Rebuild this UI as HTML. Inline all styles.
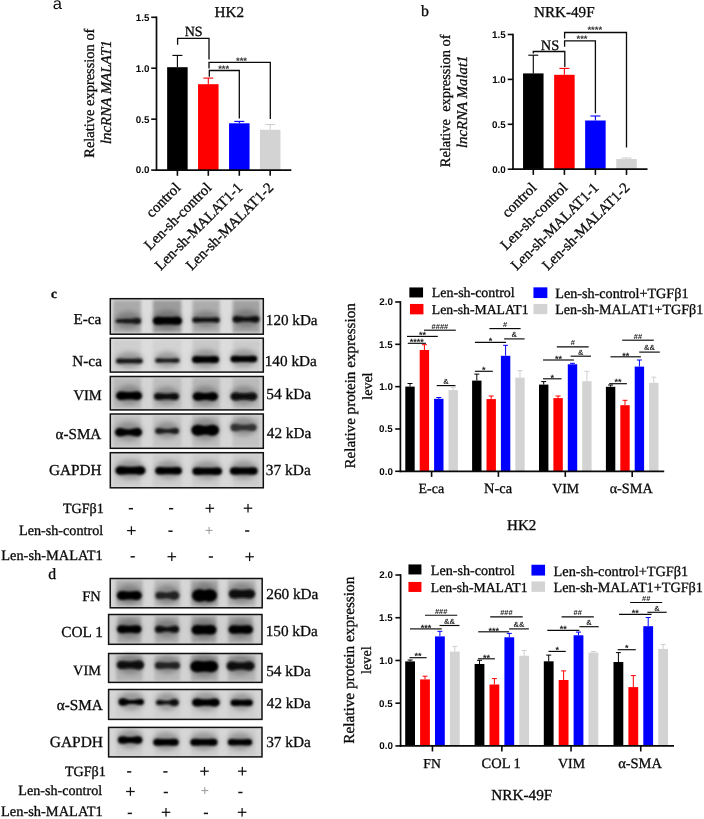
<!DOCTYPE html>
<html><head><meta charset="utf-8"><style>
html,body{margin:0;padding:0;background:#fff;}
body{width:704px;height:819px;overflow:hidden;font-family:"Liberation Serif",serif;}
svg{display:block;will-change:transform;} text{text-rendering:geometricPrecision;}
</style></head><body>
<svg width="704" height="819" viewBox="0 0 704 819">
<defs>
<filter id="bl1" x="-20%" y="-100%" width="140%" height="300%"><feGaussianBlur stdDeviation="1.15"/></filter>
<filter id="bl2" x="-20%" y="-20%" width="140%" height="140%"><feGaussianBlur stdDeviation="1.5"/></filter>
<filter id="bl3" x="-30%" y="-100%" width="160%" height="300%"><feGaussianBlur stdDeviation="2.5"/></filter>
</defs>
<rect width="704" height="819" fill="#fff"/>
<text x="52.79" y="8.99" font-family="Liberation Sans, sans-serif" font-size="16.50" fill="#0a0a0a">a</text>
<rect x="167.15" y="67.20" width="20.50" height="102.90" fill="#000000"/>
<line x1="177.40" y1="67.20" x2="177.40" y2="55.40" stroke="#000000" stroke-width="1.1"/>
<line x1="172.40" y1="55.40" x2="182.40" y2="55.40" stroke="#000000" stroke-width="1.1"/>
<rect x="198.05" y="84.20" width="20.50" height="85.90" fill="#ff0000"/>
<line x1="208.30" y1="84.20" x2="208.30" y2="78.10" stroke="#ff0000" stroke-width="1.1"/>
<line x1="203.30" y1="78.10" x2="213.30" y2="78.10" stroke="#ff0000" stroke-width="1.1"/>
<rect x="229.05" y="123.30" width="20.50" height="46.80" fill="#0000ff"/>
<line x1="239.30" y1="123.30" x2="239.30" y2="121.40" stroke="#0000ff" stroke-width="1.1"/>
<line x1="234.30" y1="121.40" x2="244.30" y2="121.40" stroke="#0000ff" stroke-width="1.1"/>
<rect x="259.95" y="129.80" width="20.50" height="40.30" fill="#d3d3d3"/>
<line x1="270.20" y1="129.80" x2="270.20" y2="124.50" stroke="#cfcfcf" stroke-width="1.1"/>
<line x1="265.20" y1="124.50" x2="275.20" y2="124.50" stroke="#cfcfcf" stroke-width="1.1"/>
<line x1="156.50" y1="16.45" x2="156.50" y2="170.95" stroke="#0a0a0a" stroke-width="1.7"/>
<line x1="155.65" y1="170.10" x2="291.30" y2="170.10" stroke="#0a0a0a" stroke-width="1.7"/>
<line x1="151.20" y1="170.10" x2="156.50" y2="170.10" stroke="#0a0a0a" stroke-width="1.6"/>
<text x="135.87" y="173.48" font-family="Liberation Sans, sans-serif" font-size="9.80" font-weight="bold" fill="#0a0a0a">0.0</text>
<line x1="151.20" y1="119.17" x2="156.50" y2="119.17" stroke="#0a0a0a" stroke-width="1.6"/>
<text x="135.72" y="122.55" font-family="Liberation Sans, sans-serif" font-size="9.80" font-weight="bold" fill="#0a0a0a">0.5</text>
<line x1="151.20" y1="68.23" x2="156.50" y2="68.23" stroke="#0a0a0a" stroke-width="1.6"/>
<text x="135.87" y="71.61" font-family="Liberation Sans, sans-serif" font-size="9.80" font-weight="bold" fill="#0a0a0a">1.0</text>
<line x1="151.20" y1="17.30" x2="156.50" y2="17.30" stroke="#0a0a0a" stroke-width="1.6"/>
<text x="135.72" y="20.63" font-family="Liberation Sans, sans-serif" font-size="9.80" font-weight="bold" fill="#0a0a0a">1.5</text>
<line x1="177.40" y1="170.10" x2="177.40" y2="175.80" stroke="#0a0a0a" stroke-width="1.6"/>
<line x1="208.30" y1="170.10" x2="208.30" y2="175.80" stroke="#0a0a0a" stroke-width="1.6"/>
<line x1="239.30" y1="170.10" x2="239.30" y2="175.80" stroke="#0a0a0a" stroke-width="1.6"/>
<line x1="270.20" y1="170.10" x2="270.20" y2="175.80" stroke="#0a0a0a" stroke-width="1.6"/>
<text x="214.60" y="17.08" font-family="Liberation Serif, serif" font-size="15.16" stroke="#0a0a0a" stroke-width="0.3" fill="#0a0a0a">HK2</text>
<path d="M177.6,44.7 V38.3 H209 V59.6" fill="none" stroke="#0a0a0a" stroke-width="1.3"/>
<text x="184.73" y="35.85" font-family="Liberation Serif, serif" font-size="14.01" stroke="#0a0a0a" stroke-width="0.3" fill="#0a0a0a">NS</text>
<path d="M209,68.5 V62.4 H270.3 V119" fill="none" stroke="#0a0a0a" stroke-width="1.3"/>
<text x="235.94" y="64.00" font-family="Liberation Sans, sans-serif" font-size="9.50" font-weight="bold" fill="#333">***</text>
<path d="M209.3,76.8 V70.5 H239.3 V118.5" fill="none" stroke="#0a0a0a" stroke-width="1.3"/>
<text x="218.14" y="71.70" font-family="Liberation Sans, sans-serif" font-size="9.50" font-weight="bold" fill="#333">***</text>
<text x="94.00" y="157.68" font-family="Liberation Serif, serif" font-size="14.45" stroke="#0a0a0a" stroke-width="0.3" fill="#0a0a0a" transform="rotate(-90 94.00 157.68)">Relative expression of</text>
<text x="111.10" y="144.07" font-family="Liberation Serif, serif" font-size="14.90" font-style="italic" stroke="#0a0a0a" stroke-width="0.3" fill="#0a0a0a" transform="rotate(-90 111.10 144.07)">lncRNA MALAT1</text>
<text x="181.40" y="188.50" font-family="Liberation Serif, serif" font-size="14.80" stroke="#0a0a0a" stroke-width="0.3" fill="#0a0a0a" transform="rotate(-45 181.40 188.50)" text-anchor="end">control</text>
<text x="212.30" y="188.50" font-family="Liberation Serif, serif" font-size="14.80" stroke="#0a0a0a" stroke-width="0.3" fill="#0a0a0a" transform="rotate(-45 212.30 188.50)" text-anchor="end">Len-sh-control</text>
<text x="243.30" y="188.50" font-family="Liberation Serif, serif" font-size="14.80" stroke="#0a0a0a" stroke-width="0.3" fill="#0a0a0a" transform="rotate(-45 243.30 188.50)" text-anchor="end">Len-sh-MALAT1-1</text>
<text x="274.20" y="188.50" font-family="Liberation Serif, serif" font-size="14.80" stroke="#0a0a0a" stroke-width="0.3" fill="#0a0a0a" transform="rotate(-45 274.20 188.50)" text-anchor="end">Len-sh-MALAT1-2</text>
<text x="420.95" y="16.39" font-family="Liberation Serif, serif" font-size="15.80" stroke="#0a0a0a" stroke-width="0.3" fill="#0a0a0a">b</text>
<rect x="523.05" y="73.40" width="20.50" height="95.80" fill="#000000"/>
<line x1="533.30" y1="73.40" x2="533.30" y2="55.20" stroke="#000000" stroke-width="1.1"/>
<line x1="528.30" y1="55.20" x2="538.30" y2="55.20" stroke="#000000" stroke-width="1.1"/>
<rect x="554.15" y="74.80" width="20.50" height="94.40" fill="#ff0000"/>
<line x1="564.40" y1="74.80" x2="564.40" y2="68.40" stroke="#ff0000" stroke-width="1.1"/>
<line x1="559.40" y1="68.40" x2="569.40" y2="68.40" stroke="#ff0000" stroke-width="1.1"/>
<rect x="585.15" y="120.50" width="20.50" height="48.70" fill="#0000ff"/>
<line x1="595.40" y1="120.50" x2="595.40" y2="116.00" stroke="#0000ff" stroke-width="1.1"/>
<line x1="590.40" y1="116.00" x2="600.40" y2="116.00" stroke="#0000ff" stroke-width="1.1"/>
<rect x="616.25" y="159.00" width="20.50" height="10.20" fill="#d3d3d3"/>
<line x1="626.50" y1="159.00" x2="626.50" y2="158.00" stroke="#cfcfcf" stroke-width="1.1"/>
<line x1="621.50" y1="158.00" x2="631.50" y2="158.00" stroke="#cfcfcf" stroke-width="1.1"/>
<line x1="513.00" y1="33.65" x2="513.00" y2="170.05" stroke="#0a0a0a" stroke-width="1.7"/>
<line x1="512.15" y1="169.20" x2="647.50" y2="169.20" stroke="#0a0a0a" stroke-width="1.7"/>
<line x1="507.70" y1="169.20" x2="513.00" y2="169.20" stroke="#0a0a0a" stroke-width="1.6"/>
<text x="492.17" y="172.58" font-family="Liberation Sans, sans-serif" font-size="9.80" font-weight="bold" fill="#0a0a0a">0.0</text>
<line x1="507.70" y1="124.30" x2="513.00" y2="124.30" stroke="#0a0a0a" stroke-width="1.6"/>
<text x="492.02" y="127.68" font-family="Liberation Sans, sans-serif" font-size="9.80" font-weight="bold" fill="#0a0a0a">0.5</text>
<line x1="507.70" y1="79.40" x2="513.00" y2="79.40" stroke="#0a0a0a" stroke-width="1.6"/>
<text x="492.17" y="82.78" font-family="Liberation Sans, sans-serif" font-size="9.80" font-weight="bold" fill="#0a0a0a">1.0</text>
<line x1="507.70" y1="34.50" x2="513.00" y2="34.50" stroke="#0a0a0a" stroke-width="1.6"/>
<text x="492.02" y="37.83" font-family="Liberation Sans, sans-serif" font-size="9.80" font-weight="bold" fill="#0a0a0a">1.5</text>
<line x1="533.30" y1="169.20" x2="533.30" y2="174.90" stroke="#0a0a0a" stroke-width="1.6"/>
<line x1="564.40" y1="169.20" x2="564.40" y2="174.90" stroke="#0a0a0a" stroke-width="1.6"/>
<line x1="595.40" y1="169.20" x2="595.40" y2="174.90" stroke="#0a0a0a" stroke-width="1.6"/>
<line x1="626.50" y1="169.20" x2="626.50" y2="174.90" stroke="#0a0a0a" stroke-width="1.6"/>
<text x="534.10" y="16.81" font-family="Liberation Serif, serif" font-size="15.12" stroke="#0a0a0a" stroke-width="0.3" fill="#0a0a0a">NRK-49F</text>
<path d="M533.3,53.5 V51.5 H564.8 V66.9" fill="none" stroke="#0a0a0a" stroke-width="1.3"/>
<text x="540.82" y="49.69" font-family="Liberation Serif, serif" font-size="14.43" stroke="#0a0a0a" stroke-width="0.3" fill="#0a0a0a">NS</text>
<path d="M564.6,38.5 V32.5 H626.5 V147.6" fill="none" stroke="#0a0a0a" stroke-width="1.3"/>
<text x="587.41" y="33.40" font-family="Liberation Sans, sans-serif" font-size="9.50" font-weight="bold" fill="#333">****</text>
<path d="M564.6,46.7 V40.9 H595.4 V113.3" fill="none" stroke="#0a0a0a" stroke-width="1.3"/>
<text x="576.44" y="42.10" font-family="Liberation Sans, sans-serif" font-size="9.50" font-weight="bold" fill="#333">***</text>
<text x="449.60" y="167.18" font-family="Liberation Serif, serif" font-size="14.44" stroke="#0a0a0a" stroke-width="0.3" fill="#0a0a0a" transform="rotate(-90 449.60 167.18)">Relative  expression of</text>
<text x="467.00" y="148.07" font-family="Liberation Serif, serif" font-size="14.87" font-style="italic" stroke="#0a0a0a" stroke-width="0.3" fill="#0a0a0a" transform="rotate(-90 467.00 148.07)">lncRNA Malat1</text>
<text x="537.30" y="188.50" font-family="Liberation Serif, serif" font-size="14.80" stroke="#0a0a0a" stroke-width="0.3" fill="#0a0a0a" transform="rotate(-45 537.30 188.50)" text-anchor="end">control</text>
<text x="568.40" y="188.50" font-family="Liberation Serif, serif" font-size="14.80" stroke="#0a0a0a" stroke-width="0.3" fill="#0a0a0a" transform="rotate(-45 568.40 188.50)" text-anchor="end">Len-sh-control</text>
<text x="599.40" y="188.50" font-family="Liberation Serif, serif" font-size="14.80" stroke="#0a0a0a" stroke-width="0.3" fill="#0a0a0a" transform="rotate(-45 599.40 188.50)" text-anchor="end">Len-sh-MALAT1-1</text>
<text x="630.50" y="188.50" font-family="Liberation Serif, serif" font-size="14.80" stroke="#0a0a0a" stroke-width="0.3" fill="#0a0a0a" transform="rotate(-45 630.50 188.50)" text-anchor="end">Len-sh-MALAT1-2</text>
<text x="50.99" y="298.05" font-family="Liberation Serif, serif" font-size="13.25" font-weight="bold" stroke="#0a0a0a" stroke-width="0.3" fill="#0a0a0a">c</text>
<rect x="110.30" y="298.70" width="153.00" height="35.50" fill="#dcdcdc"/>
<rect x="113.10" y="300.20" width="27.90" height="32.50" fill="#aaaaaa" filter="url(#bl2)"/>
<rect x="152.90" y="300.20" width="28.40" height="32.50" fill="#9c9c9c" filter="url(#bl2)"/>
<rect x="192.40" y="300.20" width="27.30" height="32.50" fill="#adadad" filter="url(#bl2)"/>
<rect x="232.70" y="300.20" width="27.30" height="32.50" fill="#a2a2a2" filter="url(#bl2)"/>
<ellipse cx="128.20" cy="320.00" rx="13.30" ry="8.50" fill="#000" fill-opacity="0.26" filter="url(#bl3)"/>
<path d="M117.90,319.25 C121.90,319.25 121.90,318.75 128.20,318.75 C133.70,318.75 133.70,318.00 137.70,318.00 A3.30,3.00 0 0 1 137.70,324.00 C133.70,324.00 133.70,323.25 128.20,323.25 C121.90,323.25 121.90,322.75 117.90,322.75 A2.50,1.75 0 0 1 117.90,319.25 Z" fill="rgb(20,20,20)" filter="url(#bl1)"/>
<ellipse cx="167.45" cy="319.80" rx="15.05" ry="9.50" fill="#000" fill-opacity="0.26" filter="url(#bl3)"/>
<path d="M157.30,316.80 C161.30,316.80 161.30,317.10 167.45,317.10 C173.60,317.10 173.60,316.80 177.60,316.80 A4.40,4.00 0 0 1 177.60,324.80 C173.60,324.80 173.60,324.50 167.45,324.50 C161.30,324.50 161.30,324.80 157.30,324.80 A4.40,4.00 0 0 1 157.30,316.80 Z" fill="rgb(0,0,0)" filter="url(#bl1)"/>
<ellipse cx="206.05" cy="318.90" rx="14.15" ry="8.00" fill="#000" fill-opacity="0.26" filter="url(#bl3)"/>
<path d="M195.15,317.40 C199.15,317.40 199.15,317.80 206.05,317.80 C212.95,317.80 212.95,317.40 216.95,317.40 A2.75,2.50 0 0 1 216.95,322.40 C212.95,322.40 212.95,322.00 206.05,322.00 C199.15,322.00 199.15,322.40 195.15,322.40 A2.75,2.50 0 0 1 195.15,317.40 Z" fill="rgb(12,12,12)" filter="url(#bl1)"/>
<ellipse cx="246.05" cy="318.30" rx="13.85" ry="8.75" fill="#000" fill-opacity="0.26" filter="url(#bl3)"/>
<path d="M236.27,316.05 C240.27,316.05 240.27,317.05 246.05,317.05 C251.82,317.05 251.82,316.05 255.82,316.05 A3.58,3.25 0 0 1 255.82,322.55 C251.82,322.55 251.82,321.55 246.05,321.55 C240.27,321.55 240.27,322.55 236.27,322.55 A3.58,3.25 0 0 1 236.27,316.05 Z" fill="rgb(12,12,12)" filter="url(#bl1)"/>
<rect x="110.30" y="298.70" width="153.00" height="35.50" fill="none" stroke="#111" stroke-width="1.5"/>
<rect x="110.30" y="338.20" width="153.00" height="33.90" fill="#dcdcdc"/>
<rect x="113.10" y="339.70" width="27.90" height="30.90" fill="#cfcfcf" filter="url(#bl2)"/>
<rect x="152.90" y="339.70" width="28.40" height="30.90" fill="#d2d2d2" filter="url(#bl2)"/>
<rect x="192.40" y="339.70" width="27.30" height="30.90" fill="#c8c8c8" filter="url(#bl2)"/>
<rect x="232.70" y="339.70" width="27.30" height="30.90" fill="#cccccc" filter="url(#bl2)"/>
<ellipse cx="129.35" cy="359.90" rx="13.85" ry="8.00" fill="#000" fill-opacity="0.26" filter="url(#bl3)"/>
<path d="M118.75,358.40 C122.75,358.40 122.75,358.65 129.35,358.65 C135.95,358.65 135.95,358.40 139.95,358.40 A2.75,2.50 0 0 1 139.95,363.40 C135.95,363.40 135.95,363.15 129.35,363.15 C122.75,363.15 122.75,363.40 118.75,363.40 A2.75,2.50 0 0 1 118.75,358.40 Z" fill="rgb(20,20,20)" filter="url(#bl1)"/>
<ellipse cx="167.40" cy="359.60" rx="12.70" ry="7.75" fill="#000" fill-opacity="0.26" filter="url(#bl3)"/>
<path d="M157.70,358.35 C161.70,358.35 161.70,358.60 167.40,358.60 C173.10,358.60 173.10,358.35 177.10,358.35 A2.50,2.25 0 0 1 177.10,362.85 C173.10,362.85 173.10,362.60 167.40,362.60 C161.70,362.60 161.70,362.85 157.70,362.85 A2.50,2.25 0 0 1 157.70,358.35 Z" fill="rgb(30,30,30)" filter="url(#bl1)"/>
<ellipse cx="205.55" cy="358.40" rx="14.05" ry="9.00" fill="#000" fill-opacity="0.26" filter="url(#bl3)"/>
<path d="M195.85,355.90 C199.85,355.90 199.85,356.15 205.55,356.15 C211.25,356.15 211.25,355.90 215.25,355.90 A3.85,3.50 0 0 1 215.25,362.90 C211.25,362.90 211.25,362.65 205.55,362.65 C199.85,362.65 199.85,362.90 195.85,362.90 A3.85,3.50 0 0 1 195.85,355.90 Z" fill="rgb(0,0,0)" filter="url(#bl1)"/>
<ellipse cx="243.85" cy="358.10" rx="13.85" ry="8.75" fill="#000" fill-opacity="0.26" filter="url(#bl3)"/>
<path d="M234.07,355.85 C238.07,355.85 238.07,356.10 243.85,356.10 C249.62,356.10 249.62,355.85 253.62,355.85 A3.58,3.25 0 0 1 253.62,362.35 C249.62,362.35 249.62,362.10 243.85,362.10 C238.07,362.10 238.07,362.35 234.07,362.35 A3.58,3.25 0 0 1 234.07,355.85 Z" fill="rgb(0,0,0)" filter="url(#bl1)"/>
<rect x="110.30" y="338.20" width="153.00" height="33.90" fill="none" stroke="#111" stroke-width="1.5"/>
<rect x="110.30" y="376.50" width="153.00" height="33.40" fill="#d4d4d4"/>
<rect x="113.10" y="378.00" width="27.90" height="30.40" fill="#b8b8b8" filter="url(#bl2)"/>
<rect x="152.90" y="378.00" width="28.40" height="30.40" fill="#bdbdbd" filter="url(#bl2)"/>
<rect x="192.40" y="378.00" width="27.30" height="30.40" fill="#b5b5b5" filter="url(#bl2)"/>
<rect x="232.70" y="378.00" width="27.30" height="30.40" fill="#bababa" filter="url(#bl2)"/>
<ellipse cx="129.05" cy="394.70" rx="13.55" ry="9.75" fill="#000" fill-opacity="0.26" filter="url(#bl3)"/>
<path d="M120.67,391.45 C124.67,391.45 124.67,391.95 129.05,391.95 C133.42,391.95 133.42,391.45 137.42,391.45 A4.68,4.25 0 0 1 137.42,399.95 C133.42,399.95 133.42,399.45 129.05,399.45 C124.67,399.45 124.67,399.95 120.67,399.95 A4.68,4.25 0 0 1 120.67,391.45 Z" fill="rgb(0,0,0)" filter="url(#bl1)"/>
<ellipse cx="166.50" cy="395.60" rx="13.00" ry="9.00" fill="#000" fill-opacity="0.26" filter="url(#bl3)"/>
<path d="M157.85,393.10 C161.85,393.10 161.85,393.60 166.50,393.60 C171.15,393.60 171.15,393.10 175.15,393.10 A3.85,3.50 0 0 1 175.15,400.10 C171.15,400.10 171.15,399.60 166.50,399.60 C161.85,399.60 161.85,400.10 157.85,400.10 A3.85,3.50 0 0 1 157.85,393.10 Z" fill="rgb(17,17,17)" filter="url(#bl1)"/>
<ellipse cx="205.35" cy="395.60" rx="13.15" ry="9.75" fill="#000" fill-opacity="0.26" filter="url(#bl3)"/>
<path d="M197.38,392.35 C201.38,392.35 201.38,393.10 205.35,393.10 C209.32,393.10 209.32,392.35 213.32,392.35 A4.68,4.25 0 0 1 213.32,400.85 C209.32,400.85 209.32,400.10 205.35,400.10 C201.38,400.10 201.38,400.85 197.38,400.85 A4.68,4.25 0 0 1 197.38,392.35 Z" fill="rgb(0,0,0)" filter="url(#bl1)"/>
<ellipse cx="243.85" cy="395.50" rx="13.85" ry="9.50" fill="#000" fill-opacity="0.26" filter="url(#bl3)"/>
<path d="M234.90,392.50 C238.90,392.50 238.90,393.25 243.85,393.25 C248.80,393.25 248.80,392.50 252.80,392.50 A4.40,4.00 0 0 1 252.80,400.50 C248.80,400.50 248.80,399.75 243.85,399.75 C238.90,399.75 238.90,400.50 234.90,400.50 A4.40,4.00 0 0 1 234.90,392.50 Z" fill="rgb(7,7,7)" filter="url(#bl1)"/>
<rect x="110.30" y="376.50" width="153.00" height="33.40" fill="none" stroke="#111" stroke-width="1.5"/>
<rect x="110.30" y="414.00" width="153.00" height="34.30" fill="#d6d6d6"/>
<rect x="113.10" y="415.50" width="27.90" height="31.30" fill="#c0c0c0" filter="url(#bl2)"/>
<rect x="152.90" y="415.50" width="28.40" height="31.30" fill="#c4c4c4" filter="url(#bl2)"/>
<rect x="192.40" y="415.50" width="27.30" height="31.30" fill="#bcbcbc" filter="url(#bl2)"/>
<rect x="232.70" y="415.50" width="27.30" height="31.30" fill="#c2c2c2" filter="url(#bl2)"/>
<ellipse cx="128.55" cy="431.20" rx="14.05" ry="9.75" fill="#000" fill-opacity="0.26" filter="url(#bl3)"/>
<path d="M119.67,427.95 C123.67,427.95 123.67,429.20 128.55,429.20 C133.42,429.20 133.42,427.95 137.42,427.95 A4.68,4.25 0 0 1 137.42,436.45 C133.42,436.45 133.42,435.20 128.55,435.20 C123.67,435.20 123.67,436.45 119.67,436.45 A4.68,4.25 0 0 1 119.67,427.95 Z" fill="rgb(0,0,0)" filter="url(#bl1)"/>
<ellipse cx="167.10" cy="430.00" rx="12.40" ry="8.50" fill="#000" fill-opacity="0.26" filter="url(#bl3)"/>
<path d="M158.50,428.00 C162.50,428.00 162.50,429.00 167.10,429.00 C171.70,429.00 171.70,428.00 175.70,428.00 A3.30,3.00 0 0 1 175.70,434.00 C171.70,434.00 171.70,433.00 167.10,433.00 C162.50,433.00 162.50,434.00 158.50,434.00 A3.30,3.00 0 0 1 158.50,428.00 Z" fill="rgb(30,30,30)" filter="url(#bl1)"/>
<ellipse cx="205.20" cy="429.20" rx="14.40" ry="11.00" fill="#000" fill-opacity="0.26" filter="url(#bl3)"/>
<path d="M197.35,424.70 C201.35,424.70 201.35,425.70 205.20,425.70 C209.05,425.70 209.05,424.70 213.05,424.70 A6.05,5.50 0 0 1 213.05,435.70 C209.05,435.70 209.05,434.70 205.20,434.70 C201.35,434.70 201.35,435.70 197.35,435.70 A6.05,5.50 0 0 1 197.35,424.70 Z" fill="rgb(0,0,0)" filter="url(#bl1)"/>
<ellipse cx="243.55" cy="426.60" rx="13.55" ry="9.25" fill="#000" fill-opacity="0.26" filter="url(#bl3)"/>
<path d="M234.62,423.85 C238.62,423.85 238.62,424.85 243.55,424.85 C248.75,424.85 248.75,424.10 252.75,424.10 A3.85,3.50 0 0 1 252.75,431.10 C248.75,431.10 248.75,430.35 243.55,430.35 C238.62,430.35 238.62,431.35 234.62,431.35 A4.12,3.75 0 0 1 234.62,423.85 Z" fill="rgb(50,50,50)" filter="url(#bl1)"/>
<rect x="110.30" y="414.00" width="153.00" height="34.30" fill="none" stroke="#111" stroke-width="1.5"/>
<rect x="110.30" y="452.70" width="153.00" height="35.10" fill="#d8d8d8"/>
<rect x="113.10" y="454.20" width="27.90" height="32.10" fill="#cccccc" filter="url(#bl2)"/>
<rect x="152.90" y="454.20" width="28.40" height="32.10" fill="#cccccc" filter="url(#bl2)"/>
<rect x="192.40" y="454.20" width="27.30" height="32.10" fill="#cccccc" filter="url(#bl2)"/>
<rect x="232.70" y="454.20" width="27.30" height="32.10" fill="#cccccc" filter="url(#bl2)"/>
<ellipse cx="130.45" cy="469.60" rx="15.55" ry="9.75" fill="#000" fill-opacity="0.26" filter="url(#bl3)"/>
<path d="M120.08,466.35 C124.08,466.35 124.08,466.85 130.45,466.85 C136.82,466.85 136.82,466.35 140.82,466.35 A4.68,4.25 0 0 1 140.82,474.85 C136.82,474.85 136.82,474.35 130.45,474.35 C124.08,474.35 124.08,474.85 120.08,474.85 A4.68,4.25 0 0 1 120.08,466.35 Z" fill="rgb(0,0,0)" filter="url(#bl1)"/>
<ellipse cx="168.55" cy="469.80" rx="13.85" ry="9.25" fill="#000" fill-opacity="0.26" filter="url(#bl3)"/>
<path d="M159.32,467.05 C163.32,467.05 163.32,467.30 168.55,467.30 C173.78,467.30 173.78,467.05 177.78,467.05 A4.12,3.75 0 0 1 177.78,474.55 C173.78,474.55 173.78,474.30 168.55,474.30 C163.32,474.30 163.32,474.55 159.32,474.55 A4.12,3.75 0 0 1 159.32,467.05 Z" fill="rgb(0,0,0)" filter="url(#bl1)"/>
<ellipse cx="207.20" cy="470.20" rx="15.30" ry="9.25" fill="#000" fill-opacity="0.26" filter="url(#bl3)"/>
<path d="M196.53,467.45 C200.53,467.45 200.53,467.70 207.20,467.70 C213.88,467.70 213.88,467.45 217.88,467.45 A4.12,3.75 0 0 1 217.88,474.95 C213.88,474.95 213.88,474.70 207.20,474.70 C200.53,474.70 200.53,474.95 196.53,474.95 A4.12,3.75 0 0 1 196.53,467.45 Z" fill="rgb(0,0,0)" filter="url(#bl1)"/>
<ellipse cx="243.80" cy="470.00" rx="14.40" ry="9.25" fill="#000" fill-opacity="0.26" filter="url(#bl3)"/>
<path d="M234.03,467.25 C238.03,467.25 238.03,467.50 243.80,467.50 C249.57,467.50 249.57,467.25 253.57,467.25 A4.12,3.75 0 0 1 253.57,474.75 C249.57,474.75 249.57,474.50 243.80,474.50 C238.03,474.50 238.03,474.75 234.03,474.75 A4.12,3.75 0 0 1 234.03,467.25 Z" fill="rgb(0,0,0)" filter="url(#bl1)"/>
<rect x="110.30" y="452.70" width="153.00" height="35.10" fill="none" stroke="#111" stroke-width="1.5"/>
<text x="73.39" y="324.20" font-family="Liberation Serif, serif" font-size="15.20" stroke="#0a0a0a" stroke-width="0.3" fill="#0a0a0a">E-ca</text>
<text x="72.29" y="365.72" font-family="Liberation Serif, serif" font-size="15.26" stroke="#0a0a0a" stroke-width="0.3" fill="#0a0a0a">N-ca</text>
<text x="73.40" y="400.45" font-family="Liberation Serif, serif" font-size="14.54" stroke="#0a0a0a" stroke-width="0.3" fill="#0a0a0a">VIM</text>
<text x="55.54" y="439.12" font-family="Liberation Serif, serif" font-size="15.13" stroke="#0a0a0a" stroke-width="0.3" fill="#0a0a0a">α-SMA</text>
<text x="48.94" y="475.41" font-family="Liberation Serif, serif" font-size="15.27" stroke="#0a0a0a" stroke-width="0.3" fill="#0a0a0a">GAPDH</text>
<text x="265.86" y="325.44" font-family="Liberation Serif, serif" font-size="15.14" stroke="#0a0a0a" stroke-width="0.3" fill="#0a0a0a">120 kDa</text>
<text x="264.76" y="365.87" font-family="Liberation Serif, serif" font-size="15.23" stroke="#0a0a0a" stroke-width="0.3" fill="#0a0a0a">140 kDa</text>
<text x="266.22" y="399.18" font-family="Liberation Serif, serif" font-size="15.42" stroke="#0a0a0a" stroke-width="0.3" fill="#0a0a0a">54 kDa</text>
<text x="266.85" y="438.41" font-family="Liberation Serif, serif" font-size="15.21" stroke="#0a0a0a" stroke-width="0.3" fill="#0a0a0a">42 kDa</text>
<text x="265.86" y="474.53" font-family="Liberation Serif, serif" font-size="15.41" stroke="#0a0a0a" stroke-width="0.3" fill="#0a0a0a">37 kDa</text>
<text x="48.20" y="578.59" font-family="Liberation Serif, serif" font-size="15.80" stroke="#0a0a0a" stroke-width="0.3" fill="#0a0a0a">d</text>
<rect x="110.20" y="578.50" width="152.00" height="29.30" fill="#d6d6d6"/>
<rect x="116.00" y="580.00" width="26.50" height="26.30" fill="#b0b0b0" filter="url(#bl2)"/>
<rect x="154.50" y="580.00" width="25.50" height="26.30" fill="#b8b8b8" filter="url(#bl2)"/>
<rect x="191.00" y="580.00" width="27.00" height="26.30" fill="#a8a8a8" filter="url(#bl2)"/>
<rect x="228.00" y="580.00" width="27.50" height="26.30" fill="#b4b4b4" filter="url(#bl2)"/>
<ellipse cx="129.30" cy="594.50" rx="13.00" ry="10.00" fill="#000" fill-opacity="0.26" filter="url(#bl3)"/>
<path d="M121.75,591.00 C125.75,591.00 125.75,591.50 129.30,591.50 C132.85,591.50 132.85,591.00 136.85,591.00 A4.95,4.50 0 0 1 136.85,600.00 C132.85,600.00 132.85,599.50 129.30,599.50 C125.75,599.50 125.75,600.00 121.75,600.00 A4.95,4.50 0 0 1 121.75,591.00 Z" fill="rgb(0,0,0)" filter="url(#bl1)"/>
<ellipse cx="167.35" cy="594.50" rx="12.45" ry="9.75" fill="#000" fill-opacity="0.26" filter="url(#bl3)"/>
<path d="M159.25,592.00 C163.25,592.00 163.25,592.50 167.35,592.50 C170.62,592.50 170.62,591.25 174.62,591.25 A4.68,4.25 0 0 1 174.62,599.75 C170.62,599.75 170.62,598.50 167.35,598.50 C163.25,598.50 163.25,599.00 159.25,599.00 A3.85,3.50 0 0 1 159.25,592.00 Z" fill="rgb(35,35,35)" filter="url(#bl1)"/>
<ellipse cx="204.50" cy="594.50" rx="13.00" ry="11.75" fill="#000" fill-opacity="0.26" filter="url(#bl3)"/>
<path d="M198.88,589.25 C202.88,589.25 202.88,590.00 204.50,590.00 C206.12,590.00 206.12,589.25 210.12,589.25 A6.88,6.25 0 0 1 210.12,601.75 C206.12,601.75 206.12,601.00 204.50,601.00 C202.88,601.00 202.88,601.75 198.88,601.75 A6.88,6.25 0 0 1 198.88,589.25 Z" fill="rgb(0,0,0)" filter="url(#bl1)"/>
<ellipse cx="241.95" cy="593.00" rx="13.55" ry="10.00" fill="#000" fill-opacity="0.26" filter="url(#bl3)"/>
<path d="M233.85,589.50 C237.85,589.50 237.85,590.00 241.95,590.00 C246.05,590.00 246.05,589.50 250.05,589.50 A4.95,4.50 0 0 1 250.05,598.50 C246.05,598.50 246.05,598.00 241.95,598.00 C237.85,598.00 237.85,598.50 233.85,598.50 A4.95,4.50 0 0 1 233.85,589.50 Z" fill="rgb(7,7,7)" filter="url(#bl1)"/>
<rect x="110.20" y="578.50" width="152.00" height="29.30" fill="none" stroke="#111" stroke-width="1.5"/>
<rect x="108.60" y="614.50" width="153.40" height="29.80" fill="#d0d0d0"/>
<rect x="117.40" y="616.00" width="23.80" height="26.80" fill="#a6a6a6" filter="url(#bl2)"/>
<rect x="154.90" y="616.00" width="23.80" height="26.80" fill="#ababab" filter="url(#bl2)"/>
<rect x="191.40" y="616.00" width="25.00" height="26.80" fill="#a4a4a4" filter="url(#bl2)"/>
<rect x="228.30" y="616.00" width="24.50" height="26.80" fill="#a8a8a8" filter="url(#bl2)"/>
<ellipse cx="129.25" cy="628.20" rx="12.75" ry="9.50" fill="#000" fill-opacity="0.26" filter="url(#bl3)"/>
<path d="M121.40,625.20 C125.40,625.20 125.40,625.70 129.25,625.70 C133.10,625.70 133.10,625.20 137.10,625.20 A4.40,4.00 0 0 1 137.10,633.20 C133.10,633.20 133.10,632.70 129.25,632.70 C125.40,632.70 125.40,633.20 121.40,633.20 A4.40,4.00 0 0 1 121.40,625.20 Z" fill="rgb(0,0,0)" filter="url(#bl1)"/>
<ellipse cx="167.00" cy="628.20" rx="12.50" ry="9.00" fill="#000" fill-opacity="0.26" filter="url(#bl3)"/>
<path d="M158.85,625.70 C162.85,625.70 162.85,626.95 167.00,626.95 C171.15,626.95 171.15,625.70 175.15,625.70 A3.85,3.50 0 0 1 175.15,632.70 C171.15,632.70 171.15,631.45 167.00,631.45 C162.85,631.45 162.85,632.70 158.85,632.70 A3.85,3.50 0 0 1 158.85,625.70 Z" fill="rgb(12,12,12)" filter="url(#bl1)"/>
<ellipse cx="204.00" cy="628.80" rx="13.00" ry="10.25" fill="#000" fill-opacity="0.26" filter="url(#bl3)"/>
<path d="M196.72,625.05 C200.72,625.05 200.72,625.30 204.00,625.30 C207.28,625.30 207.28,625.05 211.28,625.05 A5.23,4.75 0 0 1 211.28,634.55 C207.28,634.55 207.28,634.30 204.00,634.30 C200.72,634.30 200.72,634.55 196.72,634.55 A5.23,4.75 0 0 1 196.72,625.05 Z" fill="rgb(0,0,0)" filter="url(#bl1)"/>
<ellipse cx="240.75" cy="628.50" rx="12.75" ry="9.75" fill="#000" fill-opacity="0.26" filter="url(#bl3)"/>
<path d="M233.18,625.25 C237.18,625.25 237.18,625.50 240.75,625.50 C244.32,625.50 244.32,625.25 248.32,625.25 A4.68,4.25 0 0 1 248.32,633.75 C244.32,633.75 244.32,633.50 240.75,633.50 C237.18,633.50 237.18,633.75 233.18,633.75 A4.68,4.25 0 0 1 233.18,625.25 Z" fill="rgb(0,0,0)" filter="url(#bl1)"/>
<rect x="108.60" y="614.50" width="153.40" height="29.80" fill="none" stroke="#111" stroke-width="1.5"/>
<rect x="108.60" y="653.50" width="153.40" height="28.90" fill="#d2d2d2"/>
<rect x="116.00" y="655.00" width="26.50" height="25.90" fill="#b2b2b2" filter="url(#bl2)"/>
<rect x="154.50" y="655.00" width="25.50" height="25.90" fill="#b8b8b8" filter="url(#bl2)"/>
<rect x="191.00" y="655.00" width="27.00" height="25.90" fill="#aaaaaa" filter="url(#bl2)"/>
<rect x="228.00" y="655.00" width="27.50" height="25.90" fill="#b2b2b2" filter="url(#bl2)"/>
<ellipse cx="130.40" cy="664.00" rx="14.10" ry="10.00" fill="#000" fill-opacity="0.26" filter="url(#bl3)"/>
<path d="M121.20,661.00 C125.20,661.00 125.20,661.50 130.40,661.50 C135.05,661.50 135.05,660.50 139.05,660.50 A4.95,4.50 0 0 1 139.05,669.50 C135.05,669.50 135.05,668.50 130.40,668.50 C125.20,668.50 125.20,669.00 121.20,669.00 A4.40,4.00 0 0 1 121.20,661.00 Z" fill="rgb(7,7,7)" filter="url(#bl1)"/>
<ellipse cx="167.40" cy="664.50" rx="13.00" ry="9.00" fill="#000" fill-opacity="0.26" filter="url(#bl3)"/>
<path d="M158.75,662.00 C162.75,662.00 162.75,662.50 167.40,662.50 C172.05,662.50 172.05,662.00 176.05,662.00 A3.85,3.50 0 0 1 176.05,669.00 C172.05,669.00 172.05,668.50 167.40,668.50 C162.75,668.50 162.75,669.00 158.75,669.00 A3.85,3.50 0 0 1 158.75,662.00 Z" fill="rgb(35,35,35)" filter="url(#bl1)"/>
<ellipse cx="204.20" cy="665.50" rx="14.40" ry="11.25" fill="#000" fill-opacity="0.26" filter="url(#bl3)"/>
<path d="M196.62,660.75 C200.62,660.75 200.62,661.25 204.20,661.25 C207.78,661.25 207.78,660.75 211.78,660.75 A6.33,5.75 0 0 1 211.78,672.25 C207.78,672.25 207.78,671.75 204.20,671.75 C200.62,671.75 200.62,672.25 196.62,672.25 A6.33,5.75 0 0 1 196.62,660.75 Z" fill="rgb(0,0,0)" filter="url(#bl1)"/>
<ellipse cx="240.55" cy="665.00" rx="14.45" ry="10.00" fill="#000" fill-opacity="0.26" filter="url(#bl3)"/>
<path d="M231.55,661.50 C235.55,661.50 235.55,662.50 240.55,662.50 C245.55,662.50 245.55,661.50 249.55,661.50 A4.95,4.50 0 0 1 249.55,670.50 C245.55,670.50 245.55,669.50 240.55,669.50 C235.55,669.50 235.55,670.50 231.55,670.50 A4.95,4.50 0 0 1 231.55,661.50 Z" fill="rgb(12,12,12)" filter="url(#bl1)"/>
<rect x="108.60" y="653.50" width="153.40" height="28.90" fill="none" stroke="#111" stroke-width="1.5"/>
<rect x="108.60" y="689.50" width="153.40" height="29.90" fill="#d6d6d6"/>
<rect x="116.00" y="691.00" width="26.50" height="26.90" fill="#cfcfcf" filter="url(#bl2)"/>
<rect x="154.50" y="691.00" width="25.50" height="26.90" fill="#cfcfcf" filter="url(#bl2)"/>
<rect x="191.00" y="691.00" width="27.00" height="26.90" fill="#cfcfcf" filter="url(#bl2)"/>
<rect x="228.00" y="691.00" width="27.50" height="26.90" fill="#cfcfcf" filter="url(#bl2)"/>
<ellipse cx="131.25" cy="700.90" rx="13.25" ry="9.25" fill="#000" fill-opacity="0.26" filter="url(#bl3)"/>
<path d="M122.62,698.15 C126.62,698.15 126.62,699.90 131.25,699.90 C136.70,699.90 136.70,698.90 140.70,698.90 A3.30,3.00 0 0 1 140.70,704.90 C136.70,704.90 136.70,703.90 131.25,703.90 C126.62,703.90 126.62,705.65 122.62,705.65 A4.12,3.75 0 0 1 122.62,698.15 Z" fill="rgb(0,0,0)" filter="url(#bl1)"/>
<ellipse cx="167.35" cy="701.50" rx="11.85" ry="9.00" fill="#000" fill-opacity="0.26" filter="url(#bl3)"/>
<path d="M158.75,700.00 C162.75,700.00 162.75,700.75 167.35,700.75 C170.85,700.75 170.85,699.00 174.85,699.00 A3.85,3.50 0 0 1 174.85,706.00 C170.85,706.00 170.85,704.25 167.35,704.25 C162.75,704.25 162.75,705.00 158.75,705.00 A2.75,2.50 0 0 1 158.75,700.00 Z" fill="rgb(12,12,12)" filter="url(#bl1)"/>
<ellipse cx="205.90" cy="701.50" rx="14.40" ry="9.50" fill="#000" fill-opacity="0.26" filter="url(#bl3)"/>
<path d="M196.40,698.50 C200.40,698.50 200.40,699.25 205.90,699.25 C211.40,699.25 211.40,698.50 215.40,698.50 A4.40,4.00 0 0 1 215.40,706.50 C211.40,706.50 211.40,705.75 205.90,705.75 C200.40,705.75 200.40,706.50 196.40,706.50 A4.40,4.00 0 0 1 196.40,698.50 Z" fill="rgb(0,0,0)" filter="url(#bl1)"/>
<ellipse cx="241.70" cy="701.80" rx="11.60" ry="8.75" fill="#000" fill-opacity="0.26" filter="url(#bl3)"/>
<path d="M234.17,699.55 C238.17,699.55 238.17,699.80 241.70,699.80 C245.23,699.80 245.23,699.55 249.23,699.55 A3.58,3.25 0 0 1 249.23,706.05 C245.23,706.05 245.23,705.80 241.70,705.80 C238.17,705.80 238.17,706.05 234.17,706.05 A3.58,3.25 0 0 1 234.17,699.55 Z" fill="rgb(0,0,0)" filter="url(#bl1)"/>
<rect x="108.60" y="689.50" width="153.40" height="29.90" fill="none" stroke="#111" stroke-width="1.5"/>
<rect x="108.60" y="727.40" width="153.40" height="29.50" fill="#d6d6d6"/>
<rect x="116.00" y="728.90" width="26.50" height="26.50" fill="#cccccc" filter="url(#bl2)"/>
<rect x="154.50" y="728.90" width="25.50" height="26.50" fill="#cccccc" filter="url(#bl2)"/>
<rect x="191.00" y="728.90" width="27.00" height="26.50" fill="#cccccc" filter="url(#bl2)"/>
<rect x="228.00" y="728.90" width="27.50" height="26.50" fill="#cccccc" filter="url(#bl2)"/>
<ellipse cx="130.15" cy="738.90" rx="12.75" ry="9.25" fill="#000" fill-opacity="0.26" filter="url(#bl3)"/>
<path d="M122.03,736.15 C126.03,736.15 126.03,736.90 130.15,736.90 C134.28,736.90 134.28,736.15 138.28,736.15 A4.12,3.75 0 0 1 138.28,743.65 C134.28,743.65 134.28,742.90 130.15,742.90 C126.03,742.90 126.03,743.65 122.03,743.65 A4.12,3.75 0 0 1 122.03,736.15 Z" fill="rgb(0,0,0)" filter="url(#bl1)"/>
<ellipse cx="165.95" cy="741.20" rx="13.25" ry="9.00" fill="#000" fill-opacity="0.26" filter="url(#bl3)"/>
<path d="M157.05,738.70 C161.05,738.70 161.05,738.95 165.95,738.95 C170.85,738.95 170.85,738.70 174.85,738.70 A3.85,3.50 0 0 1 174.85,745.70 C170.85,745.70 170.85,745.45 165.95,745.45 C161.05,745.45 161.05,745.70 157.05,745.70 A3.85,3.50 0 0 1 157.05,738.70 Z" fill="rgb(0,0,0)" filter="url(#bl1)"/>
<ellipse cx="203.90" cy="741.20" rx="14.10" ry="9.00" fill="#000" fill-opacity="0.26" filter="url(#bl3)"/>
<path d="M194.15,738.70 C198.15,738.70 198.15,738.95 203.90,738.95 C209.65,738.95 209.65,738.70 213.65,738.70 A3.85,3.50 0 0 1 213.65,745.70 C209.65,745.70 209.65,745.45 203.90,745.45 C198.15,745.45 198.15,745.70 194.15,745.70 A3.85,3.50 0 0 1 194.15,738.70 Z" fill="rgb(0,0,0)" filter="url(#bl1)"/>
<ellipse cx="240.00" cy="741.20" rx="12.70" ry="8.75" fill="#000" fill-opacity="0.26" filter="url(#bl3)"/>
<path d="M231.38,738.95 C235.38,738.95 235.38,739.20 240.00,739.20 C244.62,739.20 244.62,738.95 248.62,738.95 A3.58,3.25 0 0 1 248.62,745.45 C244.62,745.45 244.62,745.20 240.00,745.20 C235.38,745.20 235.38,745.45 231.38,745.45 A3.58,3.25 0 0 1 231.38,738.95 Z" fill="rgb(0,0,0)" filter="url(#bl1)"/>
<rect x="108.60" y="727.40" width="153.40" height="29.50" fill="none" stroke="#111" stroke-width="1.5"/>
<text x="82.22" y="600.68" font-family="Liberation Serif, serif" font-size="14.45" stroke="#0a0a0a" stroke-width="0.3" fill="#0a0a0a">FN</text>
<text x="61.24" y="636.68" font-family="Liberation Serif, serif" font-size="15.33" stroke="#0a0a0a" stroke-width="0.3" fill="#0a0a0a">COL 1</text>
<text x="73.11" y="675.24" font-family="Liberation Serif, serif" font-size="14.33" stroke="#0a0a0a" stroke-width="0.3" fill="#0a0a0a">VIM</text>
<text x="56.74" y="709.60" font-family="Liberation Serif, serif" font-size="15.23" stroke="#0a0a0a" stroke-width="0.3" fill="#0a0a0a">α-SMA</text>
<text x="49.73" y="747.23" font-family="Liberation Serif, serif" font-size="15.47" stroke="#0a0a0a" stroke-width="0.3" fill="#0a0a0a">GAPDH</text>
<text x="266.26" y="599.28" font-family="Liberation Serif, serif" font-size="15.26" stroke="#0a0a0a" stroke-width="0.3" fill="#0a0a0a">260 kDa</text>
<text x="265.65" y="636.48" font-family="Liberation Serif, serif" font-size="15.26" stroke="#0a0a0a" stroke-width="0.3" fill="#0a0a0a">150 kDa</text>
<text x="266.23" y="675.83" font-family="Liberation Serif, serif" font-size="15.28" stroke="#0a0a0a" stroke-width="0.3" fill="#0a0a0a">54 kDa</text>
<text x="266.85" y="707.76" font-family="Liberation Serif, serif" font-size="15.07" stroke="#0a0a0a" stroke-width="0.3" fill="#0a0a0a">42 kDa</text>
<text x="266.16" y="747.24" font-family="Liberation Serif, serif" font-size="15.31" stroke="#0a0a0a" stroke-width="0.3" fill="#0a0a0a">37 kDa</text>
<text x="62.91" y="513.29" font-family="Liberation Serif, serif" font-size="14.10" stroke="#0a0a0a" stroke-width="0.3" fill="#0a0a0a">TGFβ1</text>
<text x="19.03" y="534.61" font-family="Liberation Serif, serif" font-size="14.16" stroke="#0a0a0a" stroke-width="0.3" fill="#0a0a0a">Len-sh-control</text>
<text x="1.27" y="559.91" font-family="Liberation Serif, serif" font-size="14.38" stroke="#0a0a0a" stroke-width="0.3" fill="#0a0a0a">Len-sh-MALAT1</text>
<text x="64.91" y="775.89" font-family="Liberation Serif, serif" font-size="14.10" stroke="#0a0a0a" stroke-width="0.3" fill="#0a0a0a">TGFβ1</text>
<text x="18.33" y="794.81" font-family="Liberation Serif, serif" font-size="14.11" stroke="#0a0a0a" stroke-width="0.3" fill="#0a0a0a">Len-sh-control</text>
<text x="1.02" y="816.01" font-family="Liberation Serif, serif" font-size="14.43" stroke="#0a0a0a" stroke-width="0.3" fill="#0a0a0a">Len-sh-MALAT1</text>
<rect x="128.80" y="507.95" width="4.20" height="1.50" fill="#111"/>
<rect x="169.00" y="507.95" width="4.20" height="1.50" fill="#111"/>
<rect x="205.50" y="507.68" width="8.60" height="1.25" fill="#111"/>
<rect x="209.18" y="504.00" width="1.25" height="8.60" fill="#111"/>
<rect x="243.70" y="507.57" width="8.60" height="1.25" fill="#111"/>
<rect x="247.38" y="503.90" width="1.25" height="8.60" fill="#111"/>
<rect x="127.10" y="529.98" width="8.60" height="1.25" fill="#111"/>
<rect x="130.78" y="526.30" width="1.25" height="8.60" fill="#111"/>
<rect x="168.40" y="530.45" width="4.20" height="1.50" fill="#111"/>
<rect x="205.60" y="529.90" width="7.00" height="1.00" fill="#9a9a9a"/>
<rect x="208.60" y="526.90" width="1.00" height="7.00" fill="#9a9a9a"/>
<rect x="245.10" y="530.25" width="4.20" height="1.50" fill="#111"/>
<rect x="130.60" y="556.05" width="4.20" height="1.50" fill="#111"/>
<rect x="167.50" y="556.08" width="8.60" height="1.25" fill="#111"/>
<rect x="171.18" y="552.40" width="1.25" height="8.60" fill="#111"/>
<rect x="208.80" y="556.25" width="4.20" height="1.50" fill="#111"/>
<rect x="245.30" y="556.17" width="8.60" height="1.25" fill="#111"/>
<rect x="248.97" y="552.50" width="1.25" height="8.60" fill="#111"/>
<rect x="127.10" y="771.15" width="4.20" height="1.50" fill="#111"/>
<rect x="163.30" y="771.15" width="4.20" height="1.50" fill="#111"/>
<rect x="200.20" y="770.58" width="8.60" height="1.25" fill="#111"/>
<rect x="203.88" y="766.90" width="1.25" height="8.60" fill="#111"/>
<rect x="238.00" y="770.58" width="8.60" height="1.25" fill="#111"/>
<rect x="241.68" y="766.90" width="1.25" height="8.60" fill="#111"/>
<rect x="126.10" y="790.88" width="8.60" height="1.25" fill="#111"/>
<rect x="129.78" y="787.20" width="1.25" height="8.60" fill="#111"/>
<rect x="163.70" y="791.75" width="4.20" height="1.50" fill="#111"/>
<rect x="201.30" y="790.10" width="7.00" height="1.00" fill="#9a9a9a"/>
<rect x="204.30" y="787.10" width="1.00" height="7.00" fill="#9a9a9a"/>
<rect x="238.30" y="791.75" width="4.20" height="1.50" fill="#111"/>
<rect x="127.70" y="812.65" width="4.20" height="1.50" fill="#111"/>
<rect x="161.70" y="811.67" width="8.60" height="1.25" fill="#111"/>
<rect x="165.38" y="808.00" width="1.25" height="8.60" fill="#111"/>
<rect x="203.80" y="812.65" width="4.20" height="1.50" fill="#111"/>
<rect x="237.80" y="811.67" width="8.60" height="1.25" fill="#111"/>
<rect x="241.47" y="808.00" width="1.25" height="8.60" fill="#111"/>
<rect x="409.35" y="287.45" width="13.70" height="10.00" fill="#000000"/>
<rect x="409.95" y="303.95" width="13.50" height="10.40" fill="#ff0000"/>
<rect x="533.45" y="287.35" width="13.90" height="10.70" fill="#0000ff"/>
<rect x="533.45" y="303.95" width="13.90" height="10.20" fill="#d3d3d3"/>
<text x="431.83" y="297.14" font-family="Liberation Serif, serif" font-size="13.94" stroke="#0a0a0a" stroke-width="0.3" fill="#0a0a0a">Len-sh-control</text>
<text x="431.84" y="313.88" font-family="Liberation Serif, serif" font-size="13.71" stroke="#0a0a0a" stroke-width="0.3" fill="#0a0a0a">Len-sh-MALAT1</text>
<text x="555.22" y="297.85" font-family="Liberation Serif, serif" font-size="14.18" stroke="#0a0a0a" stroke-width="0.3" fill="#0a0a0a">Len-sh-control+TGFβ1</text>
<text x="555.23" y="313.88" font-family="Liberation Serif, serif" font-size="14.09" stroke="#0a0a0a" stroke-width="0.3" fill="#0a0a0a">Len-sh-MALAT1+TGFβ1</text>
<rect x="405.30" y="386.60" width="9.40" height="84.70" fill="#000000"/>
<line x1="410.00" y1="386.60" x2="410.00" y2="383.50" stroke="#000000" stroke-width="1.0"/>
<line x1="407.50" y1="383.50" x2="412.50" y2="383.50" stroke="#000000" stroke-width="1.0"/>
<rect x="419.70" y="350.00" width="9.40" height="121.30" fill="#ff0000"/>
<line x1="424.40" y1="350.00" x2="424.40" y2="344.70" stroke="#ff0000" stroke-width="1.0"/>
<line x1="421.90" y1="344.70" x2="426.90" y2="344.70" stroke="#ff0000" stroke-width="1.0"/>
<rect x="434.10" y="398.80" width="9.40" height="72.50" fill="#0000ff"/>
<line x1="438.80" y1="398.80" x2="438.80" y2="397.50" stroke="#0000ff" stroke-width="1.0"/>
<line x1="436.30" y1="397.50" x2="441.30" y2="397.50" stroke="#0000ff" stroke-width="1.0"/>
<rect x="448.50" y="390.10" width="9.40" height="81.20" fill="#d3d3d3"/>
<line x1="453.20" y1="390.10" x2="453.20" y2="387.30" stroke="#cfcfcf" stroke-width="1.0"/>
<line x1="450.70" y1="387.30" x2="455.70" y2="387.30" stroke="#cfcfcf" stroke-width="1.0"/>
<rect x="472.10" y="380.60" width="9.40" height="90.70" fill="#000000"/>
<line x1="476.80" y1="380.60" x2="476.80" y2="374.10" stroke="#000000" stroke-width="1.0"/>
<line x1="474.30" y1="374.10" x2="479.30" y2="374.10" stroke="#000000" stroke-width="1.0"/>
<rect x="486.50" y="399.10" width="9.40" height="72.20" fill="#ff0000"/>
<line x1="491.20" y1="399.10" x2="491.20" y2="396.00" stroke="#ff0000" stroke-width="1.0"/>
<line x1="488.70" y1="396.00" x2="493.70" y2="396.00" stroke="#ff0000" stroke-width="1.0"/>
<rect x="500.90" y="355.80" width="9.40" height="115.50" fill="#0000ff"/>
<line x1="505.60" y1="355.80" x2="505.60" y2="345.30" stroke="#0000ff" stroke-width="1.0"/>
<line x1="503.10" y1="345.30" x2="508.10" y2="345.30" stroke="#0000ff" stroke-width="1.0"/>
<rect x="515.30" y="377.70" width="9.40" height="93.60" fill="#d3d3d3"/>
<line x1="520.00" y1="377.70" x2="520.00" y2="370.70" stroke="#cfcfcf" stroke-width="1.0"/>
<line x1="517.50" y1="370.70" x2="522.50" y2="370.70" stroke="#cfcfcf" stroke-width="1.0"/>
<rect x="539.00" y="384.60" width="9.40" height="86.70" fill="#000000"/>
<line x1="543.70" y1="384.60" x2="543.70" y2="381.60" stroke="#000000" stroke-width="1.0"/>
<line x1="541.20" y1="381.60" x2="546.20" y2="381.60" stroke="#000000" stroke-width="1.0"/>
<rect x="553.40" y="398.10" width="9.40" height="73.20" fill="#ff0000"/>
<line x1="558.10" y1="398.10" x2="558.10" y2="396.00" stroke="#ff0000" stroke-width="1.0"/>
<line x1="555.60" y1="396.00" x2="560.60" y2="396.00" stroke="#ff0000" stroke-width="1.0"/>
<rect x="567.80" y="364.30" width="9.40" height="107.00" fill="#0000ff"/>
<line x1="572.50" y1="364.30" x2="572.50" y2="363.30" stroke="#0000ff" stroke-width="1.0"/>
<line x1="570.00" y1="363.30" x2="575.00" y2="363.30" stroke="#0000ff" stroke-width="1.0"/>
<rect x="582.20" y="381.20" width="9.40" height="90.10" fill="#d3d3d3"/>
<line x1="586.90" y1="381.20" x2="586.90" y2="371.30" stroke="#cfcfcf" stroke-width="1.0"/>
<line x1="584.40" y1="371.30" x2="589.40" y2="371.30" stroke="#cfcfcf" stroke-width="1.0"/>
<rect x="605.90" y="386.80" width="9.40" height="84.50" fill="#000000"/>
<line x1="610.60" y1="386.80" x2="610.60" y2="385.00" stroke="#000000" stroke-width="1.0"/>
<line x1="608.10" y1="385.00" x2="613.10" y2="385.00" stroke="#000000" stroke-width="1.0"/>
<rect x="620.30" y="405.20" width="9.40" height="66.10" fill="#ff0000"/>
<line x1="625.00" y1="405.20" x2="625.00" y2="400.30" stroke="#ff0000" stroke-width="1.0"/>
<line x1="622.50" y1="400.30" x2="627.50" y2="400.30" stroke="#ff0000" stroke-width="1.0"/>
<rect x="634.70" y="366.60" width="9.40" height="104.70" fill="#0000ff"/>
<line x1="639.40" y1="366.60" x2="639.40" y2="360.00" stroke="#0000ff" stroke-width="1.0"/>
<line x1="636.90" y1="360.00" x2="641.90" y2="360.00" stroke="#0000ff" stroke-width="1.0"/>
<rect x="649.10" y="382.80" width="9.40" height="88.50" fill="#d3d3d3"/>
<line x1="653.80" y1="382.80" x2="653.80" y2="377.20" stroke="#cfcfcf" stroke-width="1.0"/>
<line x1="651.30" y1="377.20" x2="656.30" y2="377.20" stroke="#cfcfcf" stroke-width="1.0"/>
<line x1="400.40" y1="301.15" x2="400.40" y2="472.15" stroke="#0a0a0a" stroke-width="1.7"/>
<line x1="399.55" y1="471.30" x2="664.20" y2="471.30" stroke="#0a0a0a" stroke-width="1.7"/>
<line x1="395.20" y1="471.30" x2="400.40" y2="471.30" stroke="#0a0a0a" stroke-width="1.6"/>
<text x="379.27" y="474.68" font-family="Liberation Sans, sans-serif" font-size="9.80" font-weight="bold" fill="#0a0a0a">0.0</text>
<line x1="395.20" y1="428.98" x2="400.40" y2="428.98" stroke="#0a0a0a" stroke-width="1.6"/>
<text x="379.12" y="432.36" font-family="Liberation Sans, sans-serif" font-size="9.80" font-weight="bold" fill="#0a0a0a">0.5</text>
<line x1="395.20" y1="386.65" x2="400.40" y2="386.65" stroke="#0a0a0a" stroke-width="1.6"/>
<text x="379.27" y="390.03" font-family="Liberation Sans, sans-serif" font-size="9.80" font-weight="bold" fill="#0a0a0a">1.0</text>
<line x1="395.20" y1="344.32" x2="400.40" y2="344.32" stroke="#0a0a0a" stroke-width="1.6"/>
<text x="379.12" y="347.66" font-family="Liberation Sans, sans-serif" font-size="9.80" font-weight="bold" fill="#0a0a0a">1.5</text>
<line x1="395.20" y1="302.00" x2="400.40" y2="302.00" stroke="#0a0a0a" stroke-width="1.6"/>
<text x="379.27" y="305.38" font-family="Liberation Sans, sans-serif" font-size="9.80" font-weight="bold" fill="#0a0a0a">2.0</text>
<line x1="431.60" y1="471.30" x2="431.60" y2="476.90" stroke="#0a0a0a" stroke-width="1.6"/>
<line x1="407.80" y1="343.30" x2="425.90" y2="343.30" stroke="#0a0a0a" stroke-width="1.15"/>
<text x="409.85" y="345.05" font-family="Liberation Sans, sans-serif" font-size="9.00" font-weight="bold" fill="#222">****</text>
<line x1="407.00" y1="336.40" x2="437.80" y2="336.40" stroke="#0a0a0a" stroke-width="1.15"/>
<text x="418.89" y="338.14" font-family="Liberation Sans, sans-serif" font-size="9.00" font-weight="bold" fill="#222">**</text>
<line x1="424.00" y1="330.20" x2="455.80" y2="330.20" stroke="#0a0a0a" stroke-width="1.15"/>
<text x="431.56" y="328.60" font-family="Liberation Sans, sans-serif" font-size="7.50" font-weight="bold" fill="#222">####</text>
<line x1="436.70" y1="385.60" x2="455.50" y2="385.60" stroke="#0a0a0a" stroke-width="1.15"/>
<text x="443.34" y="383.93" font-family="Liberation Sans, sans-serif" font-size="7.50" font-weight="bold" fill="#222">&amp;</text>
<line x1="498.40" y1="471.30" x2="498.40" y2="476.90" stroke="#0a0a0a" stroke-width="1.6"/>
<line x1="474.90" y1="371.30" x2="492.80" y2="371.30" stroke="#0a0a0a" stroke-width="1.15"/>
<text x="482.10" y="373.05" font-family="Liberation Sans, sans-serif" font-size="9.00" font-weight="bold" fill="#222">*</text>
<line x1="474.90" y1="342.30" x2="506.10" y2="342.30" stroke="#0a0a0a" stroke-width="1.15"/>
<text x="488.75" y="344.05" font-family="Liberation Sans, sans-serif" font-size="9.00" font-weight="bold" fill="#222">*</text>
<line x1="489.40" y1="328.60" x2="520.60" y2="328.60" stroke="#0a0a0a" stroke-width="1.15"/>
<text x="502.92" y="327.00" font-family="Liberation Sans, sans-serif" font-size="7.50" font-weight="bold" fill="#222">#</text>
<line x1="504.10" y1="338.90" x2="524.60" y2="338.90" stroke="#0a0a0a" stroke-width="1.15"/>
<text x="511.59" y="337.22" font-family="Liberation Sans, sans-serif" font-size="7.50" font-weight="bold" fill="#222">&amp;</text>
<line x1="565.30" y1="471.30" x2="565.30" y2="476.90" stroke="#0a0a0a" stroke-width="1.6"/>
<line x1="543.00" y1="378.80" x2="561.50" y2="378.80" stroke="#0a0a0a" stroke-width="1.15"/>
<text x="550.50" y="380.55" font-family="Liberation Sans, sans-serif" font-size="9.00" font-weight="bold" fill="#222">*</text>
<line x1="543.00" y1="360.00" x2="573.90" y2="360.00" stroke="#0a0a0a" stroke-width="1.15"/>
<text x="554.94" y="361.75" font-family="Liberation Sans, sans-serif" font-size="9.00" font-weight="bold" fill="#222">**</text>
<line x1="556.80" y1="346.80" x2="588.70" y2="346.80" stroke="#0a0a0a" stroke-width="1.15"/>
<text x="570.67" y="345.20" font-family="Liberation Sans, sans-serif" font-size="7.50" font-weight="bold" fill="#222">#</text>
<line x1="570.60" y1="356.20" x2="591.00" y2="356.20" stroke="#0a0a0a" stroke-width="1.15"/>
<text x="578.04" y="354.52" font-family="Liberation Sans, sans-serif" font-size="7.50" font-weight="bold" fill="#222">&amp;</text>
<line x1="632.20" y1="471.30" x2="632.20" y2="476.90" stroke="#0a0a0a" stroke-width="1.6"/>
<line x1="609.20" y1="383.70" x2="626.90" y2="383.70" stroke="#0a0a0a" stroke-width="1.15"/>
<text x="614.54" y="385.44" font-family="Liberation Sans, sans-serif" font-size="9.00" font-weight="bold" fill="#222">**</text>
<line x1="610.50" y1="356.80" x2="640.90" y2="356.80" stroke="#0a0a0a" stroke-width="1.15"/>
<text x="622.19" y="358.55" font-family="Liberation Sans, sans-serif" font-size="9.00" font-weight="bold" fill="#222">**</text>
<line x1="622.20" y1="340.20" x2="653.80" y2="340.20" stroke="#0a0a0a" stroke-width="1.15"/>
<text x="633.84" y="338.60" font-family="Liberation Sans, sans-serif" font-size="7.50" font-weight="bold" fill="#222">##</text>
<line x1="639.20" y1="352.10" x2="659.80" y2="352.10" stroke="#0a0a0a" stroke-width="1.15"/>
<text x="644.04" y="350.43" font-family="Liberation Sans, sans-serif" font-size="7.50" font-weight="bold" fill="#222">&amp;&amp;</text>
<text x="418.53" y="493.00" font-family="Liberation Serif, serif" font-size="13.97" stroke="#0a0a0a" stroke-width="0.3" fill="#0a0a0a">E-ca</text>
<text x="484.12" y="493.13" font-family="Liberation Serif, serif" font-size="14.37" stroke="#0a0a0a" stroke-width="0.3" fill="#0a0a0a">N-ca</text>
<text x="552.31" y="492.92" font-family="Liberation Serif, serif" font-size="13.81" stroke="#0a0a0a" stroke-width="0.3" fill="#0a0a0a">VIM</text>
<text x="609.68" y="493.12" font-family="Liberation Serif, serif" font-size="14.22" stroke="#0a0a0a" stroke-width="0.3" fill="#0a0a0a">α-SMA</text>
<text x="507.10" y="529.92" font-family="Liberation Serif, serif" font-size="15.05" stroke="#0a0a0a" stroke-width="0.3" fill="#0a0a0a">HK2</text>
<text x="354.60" y="468.50" font-family="Liberation Serif, serif" font-size="15.12" stroke="#0a0a0a" stroke-width="0.3" fill="#0a0a0a" transform="rotate(-90 354.60 468.50)">Relative protein expression</text>
<text x="371.80" y="399.73" font-family="Liberation Serif, serif" font-size="14.02" stroke="#0a0a0a" stroke-width="0.3" fill="#0a0a0a" transform="rotate(-90 371.80 399.73)">level</text>
<rect x="408.45" y="564.45" width="13.00" height="10.00" fill="#000000"/>
<rect x="408.45" y="581.95" width="13.00" height="10.00" fill="#ff0000"/>
<rect x="531.45" y="564.75" width="13.60" height="10.80" fill="#0000ff"/>
<rect x="531.45" y="581.45" width="13.60" height="10.40" fill="#d3d3d3"/>
<text x="430.83" y="574.66" font-family="Liberation Serif, serif" font-size="14.11" stroke="#0a0a0a" stroke-width="0.3" fill="#0a0a0a">Len-sh-control</text>
<text x="430.84" y="591.88" font-family="Liberation Serif, serif" font-size="13.71" stroke="#0a0a0a" stroke-width="0.3" fill="#0a0a0a">Len-sh-MALAT1</text>
<text x="553.52" y="575.56" font-family="Liberation Serif, serif" font-size="14.34" stroke="#0a0a0a" stroke-width="0.3" fill="#0a0a0a">Len-sh-control+TGFβ1</text>
<text x="553.52" y="592.27" font-family="Liberation Serif, serif" font-size="14.21" stroke="#0a0a0a" stroke-width="0.3" fill="#0a0a0a">Len-sh-MALAT1+TGFβ1</text>
<rect x="405.20" y="661.40" width="9.80" height="84.50" fill="#000000"/>
<line x1="410.10" y1="661.40" x2="410.10" y2="660.00" stroke="#000000" stroke-width="1.0"/>
<line x1="407.60" y1="660.00" x2="412.60" y2="660.00" stroke="#000000" stroke-width="1.0"/>
<rect x="420.10" y="679.40" width="9.80" height="66.50" fill="#ff0000"/>
<line x1="425.00" y1="679.40" x2="425.00" y2="676.20" stroke="#ff0000" stroke-width="1.0"/>
<line x1="422.50" y1="676.20" x2="427.50" y2="676.20" stroke="#ff0000" stroke-width="1.0"/>
<rect x="435.00" y="636.40" width="9.80" height="109.50" fill="#0000ff"/>
<line x1="439.90" y1="636.40" x2="439.90" y2="631.30" stroke="#0000ff" stroke-width="1.0"/>
<line x1="437.40" y1="631.30" x2="442.40" y2="631.30" stroke="#0000ff" stroke-width="1.0"/>
<rect x="449.90" y="651.60" width="9.80" height="94.30" fill="#d3d3d3"/>
<line x1="454.80" y1="651.60" x2="454.80" y2="646.40" stroke="#cfcfcf" stroke-width="1.0"/>
<line x1="452.30" y1="646.40" x2="457.30" y2="646.40" stroke="#cfcfcf" stroke-width="1.0"/>
<rect x="474.60" y="664.00" width="9.80" height="81.90" fill="#000000"/>
<line x1="479.50" y1="664.00" x2="479.50" y2="660.30" stroke="#000000" stroke-width="1.0"/>
<line x1="477.00" y1="660.30" x2="482.00" y2="660.30" stroke="#000000" stroke-width="1.0"/>
<rect x="489.50" y="684.50" width="9.80" height="61.40" fill="#ff0000"/>
<line x1="494.40" y1="684.50" x2="494.40" y2="678.60" stroke="#ff0000" stroke-width="1.0"/>
<line x1="491.90" y1="678.60" x2="496.90" y2="678.60" stroke="#ff0000" stroke-width="1.0"/>
<rect x="504.40" y="637.30" width="9.80" height="108.60" fill="#0000ff"/>
<line x1="509.30" y1="637.30" x2="509.30" y2="633.40" stroke="#0000ff" stroke-width="1.0"/>
<line x1="506.80" y1="633.40" x2="511.80" y2="633.40" stroke="#0000ff" stroke-width="1.0"/>
<rect x="519.30" y="655.70" width="9.80" height="90.20" fill="#d3d3d3"/>
<line x1="524.20" y1="655.70" x2="524.20" y2="650.50" stroke="#cfcfcf" stroke-width="1.0"/>
<line x1="521.70" y1="650.50" x2="526.70" y2="650.50" stroke="#cfcfcf" stroke-width="1.0"/>
<rect x="543.80" y="661.30" width="9.80" height="84.60" fill="#000000"/>
<line x1="548.70" y1="661.30" x2="548.70" y2="655.10" stroke="#000000" stroke-width="1.0"/>
<line x1="546.20" y1="655.10" x2="551.20" y2="655.10" stroke="#000000" stroke-width="1.0"/>
<rect x="558.70" y="680.00" width="9.80" height="65.90" fill="#ff0000"/>
<line x1="563.60" y1="680.00" x2="563.60" y2="670.90" stroke="#ff0000" stroke-width="1.0"/>
<line x1="561.10" y1="670.90" x2="566.10" y2="670.90" stroke="#ff0000" stroke-width="1.0"/>
<rect x="573.60" y="635.30" width="9.80" height="110.60" fill="#0000ff"/>
<line x1="578.50" y1="635.30" x2="578.50" y2="632.10" stroke="#0000ff" stroke-width="1.0"/>
<line x1="576.00" y1="632.10" x2="581.00" y2="632.10" stroke="#0000ff" stroke-width="1.0"/>
<rect x="588.50" y="652.60" width="9.80" height="93.30" fill="#d3d3d3"/>
<line x1="593.40" y1="652.60" x2="593.40" y2="651.50" stroke="#cfcfcf" stroke-width="1.0"/>
<line x1="590.90" y1="651.50" x2="595.90" y2="651.50" stroke="#cfcfcf" stroke-width="1.0"/>
<rect x="613.50" y="662.00" width="9.80" height="83.90" fill="#000000"/>
<line x1="618.40" y1="662.00" x2="618.40" y2="652.60" stroke="#000000" stroke-width="1.0"/>
<line x1="615.90" y1="652.60" x2="620.90" y2="652.60" stroke="#000000" stroke-width="1.0"/>
<rect x="628.40" y="687.10" width="9.80" height="58.80" fill="#ff0000"/>
<line x1="633.30" y1="687.10" x2="633.30" y2="675.60" stroke="#ff0000" stroke-width="1.0"/>
<line x1="630.80" y1="675.60" x2="635.80" y2="675.60" stroke="#ff0000" stroke-width="1.0"/>
<rect x="643.30" y="626.20" width="9.80" height="119.70" fill="#0000ff"/>
<line x1="648.20" y1="626.20" x2="648.20" y2="617.50" stroke="#0000ff" stroke-width="1.0"/>
<line x1="645.70" y1="617.50" x2="650.70" y2="617.50" stroke="#0000ff" stroke-width="1.0"/>
<rect x="658.20" y="648.90" width="9.80" height="97.00" fill="#d3d3d3"/>
<line x1="663.10" y1="648.90" x2="663.10" y2="644.50" stroke="#cfcfcf" stroke-width="1.0"/>
<line x1="660.60" y1="644.50" x2="665.60" y2="644.50" stroke="#cfcfcf" stroke-width="1.0"/>
<line x1="400.60" y1="574.15" x2="400.60" y2="746.75" stroke="#0a0a0a" stroke-width="1.7"/>
<line x1="399.75" y1="745.90" x2="674.00" y2="745.90" stroke="#0a0a0a" stroke-width="1.7"/>
<line x1="395.40" y1="745.90" x2="400.60" y2="745.90" stroke="#0a0a0a" stroke-width="1.6"/>
<text x="379.27" y="749.28" font-family="Liberation Sans, sans-serif" font-size="9.80" font-weight="bold" fill="#0a0a0a">0.0</text>
<line x1="395.40" y1="703.17" x2="400.60" y2="703.17" stroke="#0a0a0a" stroke-width="1.6"/>
<text x="379.12" y="706.56" font-family="Liberation Sans, sans-serif" font-size="9.80" font-weight="bold" fill="#0a0a0a">0.5</text>
<line x1="395.40" y1="660.45" x2="400.60" y2="660.45" stroke="#0a0a0a" stroke-width="1.6"/>
<text x="379.27" y="663.83" font-family="Liberation Sans, sans-serif" font-size="9.80" font-weight="bold" fill="#0a0a0a">1.0</text>
<line x1="395.40" y1="617.73" x2="400.60" y2="617.73" stroke="#0a0a0a" stroke-width="1.6"/>
<text x="379.12" y="621.06" font-family="Liberation Sans, sans-serif" font-size="9.80" font-weight="bold" fill="#0a0a0a">1.5</text>
<line x1="395.40" y1="575.00" x2="400.60" y2="575.00" stroke="#0a0a0a" stroke-width="1.6"/>
<text x="379.27" y="578.38" font-family="Liberation Sans, sans-serif" font-size="9.80" font-weight="bold" fill="#0a0a0a">2.0</text>
<line x1="432.45" y1="745.90" x2="432.45" y2="751.50" stroke="#0a0a0a" stroke-width="1.6"/>
<line x1="409.50" y1="657.70" x2="426.60" y2="657.70" stroke="#0a0a0a" stroke-width="1.15"/>
<text x="414.54" y="659.45" font-family="Liberation Sans, sans-serif" font-size="9.00" font-weight="bold" fill="#222">**</text>
<line x1="410.00" y1="628.90" x2="441.80" y2="628.90" stroke="#0a0a0a" stroke-width="1.15"/>
<text x="420.63" y="630.64" font-family="Liberation Sans, sans-serif" font-size="9.00" font-weight="bold" fill="#222">***</text>
<line x1="425.00" y1="615.20" x2="457.30" y2="615.20" stroke="#0a0a0a" stroke-width="1.15"/>
<text x="434.91" y="613.60" font-family="Liberation Sans, sans-serif" font-size="7.50" font-weight="bold" fill="#222">###</text>
<line x1="439.50" y1="625.50" x2="459.50" y2="625.50" stroke="#0a0a0a" stroke-width="1.15"/>
<text x="444.04" y="623.82" font-family="Liberation Sans, sans-serif" font-size="7.50" font-weight="bold" fill="#222">&amp;&amp;</text>
<line x1="501.85" y1="745.90" x2="501.85" y2="751.50" stroke="#0a0a0a" stroke-width="1.6"/>
<line x1="478.00" y1="658.80" x2="494.90" y2="658.80" stroke="#0a0a0a" stroke-width="1.15"/>
<text x="482.94" y="660.54" font-family="Liberation Sans, sans-serif" font-size="9.00" font-weight="bold" fill="#222">**</text>
<line x1="478.20" y1="631.80" x2="509.10" y2="631.80" stroke="#0a0a0a" stroke-width="1.15"/>
<text x="488.38" y="633.54" font-family="Liberation Sans, sans-serif" font-size="9.00" font-weight="bold" fill="#222">***</text>
<line x1="490.20" y1="616.80" x2="522.70" y2="616.80" stroke="#0a0a0a" stroke-width="1.15"/>
<text x="500.21" y="615.20" font-family="Liberation Sans, sans-serif" font-size="7.50" font-weight="bold" fill="#222">###</text>
<line x1="509.10" y1="628.90" x2="528.90" y2="628.90" stroke="#0a0a0a" stroke-width="1.15"/>
<text x="513.54" y="627.22" font-family="Liberation Sans, sans-serif" font-size="7.50" font-weight="bold" fill="#222">&amp;&amp;</text>
<line x1="571.05" y1="745.90" x2="571.05" y2="751.50" stroke="#0a0a0a" stroke-width="1.6"/>
<line x1="548.50" y1="651.40" x2="565.80" y2="651.40" stroke="#0a0a0a" stroke-width="1.15"/>
<text x="555.39" y="653.14" font-family="Liberation Sans, sans-serif" font-size="9.00" font-weight="bold" fill="#222">*</text>
<line x1="547.30" y1="630.40" x2="579.40" y2="630.40" stroke="#0a0a0a" stroke-width="1.15"/>
<text x="559.84" y="632.14" font-family="Liberation Sans, sans-serif" font-size="9.00" font-weight="bold" fill="#222">**</text>
<line x1="561.60" y1="616.80" x2="593.80" y2="616.80" stroke="#0a0a0a" stroke-width="1.15"/>
<text x="573.54" y="615.20" font-family="Liberation Sans, sans-serif" font-size="7.50" font-weight="bold" fill="#222">##</text>
<line x1="579.40" y1="626.70" x2="598.70" y2="626.70" stroke="#0a0a0a" stroke-width="1.15"/>
<text x="586.29" y="625.02" font-family="Liberation Sans, sans-serif" font-size="7.50" font-weight="bold" fill="#222">&amp;</text>
<line x1="640.75" y1="745.90" x2="640.75" y2="751.50" stroke="#0a0a0a" stroke-width="1.6"/>
<line x1="617.70" y1="649.70" x2="635.80" y2="649.70" stroke="#0a0a0a" stroke-width="1.15"/>
<text x="625.00" y="651.45" font-family="Liberation Sans, sans-serif" font-size="9.00" font-weight="bold" fill="#222">*</text>
<line x1="619.00" y1="614.30" x2="651.60" y2="614.30" stroke="#0a0a0a" stroke-width="1.15"/>
<text x="631.79" y="616.04" font-family="Liberation Sans, sans-serif" font-size="9.00" font-weight="bold" fill="#222">**</text>
<line x1="630.10" y1="602.50" x2="662.20" y2="602.50" stroke="#0a0a0a" stroke-width="1.15"/>
<text x="641.99" y="600.90" font-family="Liberation Sans, sans-serif" font-size="7.50" font-weight="bold" fill="#222">##</text>
<line x1="647.40" y1="612.30" x2="666.70" y2="612.30" stroke="#0a0a0a" stroke-width="1.15"/>
<text x="654.29" y="610.62" font-family="Liberation Sans, sans-serif" font-size="7.50" font-weight="bold" fill="#222">&amp;</text>
<text x="423.34" y="767.59" font-family="Liberation Serif, serif" font-size="13.71" stroke="#0a0a0a" stroke-width="0.3" fill="#0a0a0a">FN</text>
<text x="481.57" y="767.80" font-family="Liberation Serif, serif" font-size="14.46" stroke="#0a0a0a" stroke-width="0.3" fill="#0a0a0a">COL 1</text>
<text x="558.11" y="767.53" font-family="Liberation Serif, serif" font-size="13.86" stroke="#0a0a0a" stroke-width="0.3" fill="#0a0a0a">VIM</text>
<text x="618.17" y="767.81" font-family="Liberation Serif, serif" font-size="14.49" stroke="#0a0a0a" stroke-width="0.3" fill="#0a0a0a">α-SMA</text>
<text x="491.29" y="800.06" font-family="Liberation Serif, serif" font-size="15.25" stroke="#0a0a0a" stroke-width="0.3" fill="#0a0a0a">NRK-49F</text>
<text x="353.90" y="743.71" font-family="Liberation Serif, serif" font-size="15.27" stroke="#0a0a0a" stroke-width="0.3" fill="#0a0a0a" transform="rotate(-90 353.90 743.71)">Relative protein expression</text>
<text x="370.70" y="674.04" font-family="Liberation Serif, serif" font-size="14.28" stroke="#0a0a0a" stroke-width="0.3" fill="#0a0a0a" transform="rotate(-90 370.70 674.04)">level</text>
</svg>
</body></html>
